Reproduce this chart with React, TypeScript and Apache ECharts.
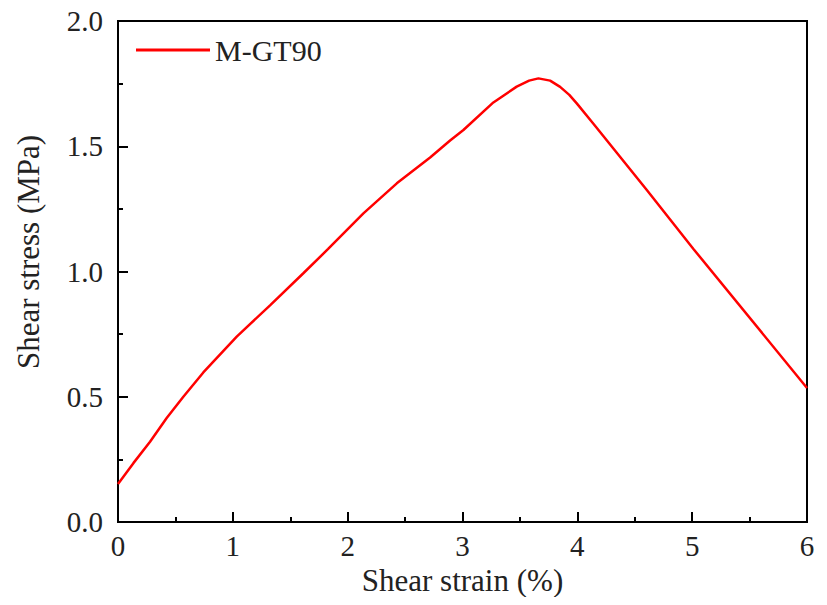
import React, { useEffect, useRef } from "react";
import * as echarts from "echarts";

const seriesName = "M-GT90";
const strain = [0, 0.134, 0.279, 0.424, 0.569, 0.743, 1.034, 1.324, 1.614, 1.83, 2.137, 2.428, 2.718, 2.892, 3.008, 3.269, 3.472, 3.58, 3.661, 3.763, 3.85, 3.93, 3.995, 4.14, 4.605, 5.011, 6.0];
const stress = [0.152, 0.235, 0.32, 0.415, 0.5, 0.597, 0.74, 0.865, 0.993, 1.09, 1.232, 1.352, 1.455, 1.523, 1.565, 1.675, 1.738, 1.762, 1.771, 1.762, 1.737, 1.705, 1.671, 1.59, 1.325, 1.09, 0.535];

const xTitle = "Shear strain (%)";
const yTitle = "Shear stress (MPa)";

export default function App() {
  const ref = useRef<HTMLDivElement>(null);
  useEffect(() => {
    if (!ref.current) return;
    const chart = echarts.init(ref.current, null, { renderer: "svg" });
    const font = "Liberation Serif";
    const data = strain.map((x, i) => [x, stress[i]]);
    chart.setOption({
      animation: false,
      backgroundColor: "#ffffff",
      grid: {
        left: 118,
        right: 20,
        top: 21,
        bottom: 83,
        show: true,
        borderColor: "#000",
        borderWidth: 2,
        containLabel: false,
      },
      legend: {
        left: 131,
        top: 30,
        itemWidth: 74,
        itemHeight: 3,
        itemGap: 6,
        data: [{ name: seriesName, icon: "rect" }],
        textStyle: { fontFamily: font, fontSize: 30, color: "#222" },
      },
      xAxis: {
        type: "value",
        min: 0,
        max: 6,
        interval: 1,
        name: xTitle,
        nameLocation: "middle",
        nameGap: 43,
        nameTextStyle: { fontFamily: font, fontSize: 31, color: "#222" },
        axisLine: { show: true, lineStyle: { color: "#000", width: 2 } },
        axisTick: { show: true, inside: true, length: 10, lineStyle: { color: "#000", width: 2 } },
        minorTick: { show: true, splitNumber: 2, length: 5, lineStyle: { color: "#000", width: 2 } },
        axisLabel: { fontFamily: font, fontSize: 29, color: "#222", margin: 9 },
        splitLine: { show: false },
      },
      yAxis: {
        type: "value",
        min: 0,
        max: 2,
        interval: 0.5,
        axisLine: { show: true, lineStyle: { color: "#000", width: 2 } },
        axisTick: { show: true, inside: true, length: 10, lineStyle: { color: "#000", width: 2 } },
        minorTick: { show: true, splitNumber: 2, length: 5, lineStyle: { color: "#000", width: 2 } },
        axisLabel: {
          fontFamily: font,
          fontSize: 29,
          color: "#222",
          margin: 15,
          formatter: (v: number) => v.toFixed(1),
        },
        splitLine: { show: false },
      },
      graphic: [
        {
          type: "text",
          x: 28,
          y: 252,
          rotation: Math.PI / 2,
          style: {
            text: yTitle,
            fontFamily: font,
            fontSize: 31,
            fill: "#222",
            align: "center",
            verticalAlign: "middle",
          },
        },
      ],
      series: [
        {
          name: seriesName,
          type: "line",
          data,
          symbol: "none",
          smooth: false,
          lineStyle: { color: "#ff0000", width: 2.5 },
          itemStyle: { color: "#ff0000" },
        },
      ],
    });
    return () => chart.dispose();
  }, []);
  return <div ref={ref} style={{ width: 827, height: 605, margin: -8 }} />;
}
